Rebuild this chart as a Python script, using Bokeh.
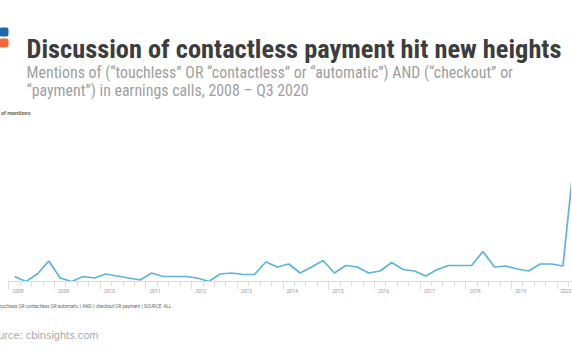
from bokeh.plotting import figure
from bokeh.models import Label, FixedTicker, LinearAxis, Range1d, BoxAnnotation, PrintfTickFormatter
from bokeh.embed import file_html
from bokeh.resources import INLINE

# ---- data -------------------------------------------------------------
years = list(range(2008, 2021))
quarters = [f"{y} Q{q}" for y in years for q in (1, 2, 3, 4)][:51]   # 2008 Q1 .. 2020 Q3
mentions = [10, 0, 15, 41, 7, 0, 10, 7,
            15, 11, 7, 3, 17, 10, 10, 10,
            7, 0, 15, 17, 14, 14, 39, 29,
            35, 17, 29, 42, 17, 32, 29, 17,
            21, 38, 24, 21, 11, 24, 32, 32,
            32, 60, 29, 31, 25, 21, 35, 35,
            31, 250, 290]

title_text = "Discussion of contactless payment hit new heights"
subtitle_1 = "Mentions of (\u201ctouchless\u201d OR \u201ccontactless\u201d or \u201cautomatic\u201d) AND (\u201ccheckout\u201d or"
subtitle_2 = "\u201cpayment\u201d) in earnings calls, 2008 \u2013 Q3 2020"
y_label = "# of mentions"
query_text = "( touchless OR contactless OR automatic ) AND ( checkout OR payment ) SOURCE: ALL"
source_text = "Source: cbinsights.com"

# x position of each quarter = middle of the quarter, in years
xs = [int(s[:4]) + (int(s[-1]) - 0.5) / 4 for s in quarters]

W, H = 572, 364
p = figure(width=W, height=H, output_backend="svg", toolbar_location=None,
           x_axis_type=None, y_axis_type=None,
           x_range=Range1d(2007.796, 2020.312), y_range=Range1d(-164, 564),
           min_border_left=0, min_border_right=0, min_border_top=0, min_border_bottom=0,
           margin=(-1, -1, -1, -1))
p.outline_line_color = None
p.grid.visible = False
p.background_fill_color = "white"
p.border_fill_color = "white"

p.line(xs, mentions, line_color="#5ab4dd", line_width=1.7)

# axis with tick marks (years long, quarters short), labels not drawn
tick_axis = LinearAxis(
    fixed_location=0,
    ticker=FixedTicker(ticks=[float(y) for y in years] + [2021.0],
                       minor_ticks=[y + q / 4 for y in years for q in range(4)]),
    bounds=(2008, 2021),
    axis_line_color="#dddddd", axis_line_width=1,
    major_tick_line_color="#dddddd", major_tick_out=8, major_tick_in=0,
    minor_tick_line_color="#dddddd", minor_tick_out=5, minor_tick_in=0,
    major_label_text_font_size="1px", major_label_text_color=None,
    major_label_standoff=0,
)
p.add_layout(tick_axis, "below")

# axis carrying the year labels
label_axis = LinearAxis(
    fixed_location=0,
    ticker=FixedTicker(ticks=[y + 0.2 for y in years], minor_ticks=[]),
    formatter=PrintfTickFormatter(format="%d"),
    axis_line_color=None, major_tick_line_color=None, minor_tick_line_color=None,
    major_tick_out=0, major_tick_in=0, major_label_standoff=7,
    major_label_text_font_size="5px", major_label_text_color="#999999",
    major_label_text_font="Roboto",
)
p.add_layout(label_axis, "below")

def lab(text, x, y, size, color, font="Roboto", style="normal", anchor=None):
    kw = dict(x=x, y=H - y, x_units="screen", y_units="screen", text=text,
              text_font_size=size, text_color=color, text_font=font,
              text_font_style=style, text_baseline="alphabetic")
    if anchor:
        kw["anchor"] = anchor
    p.add_layout(Label(**kw))

COND = "'Roboto Condensed', Roboto"
lab(title_text, 27, 49, "26.4px", "#3d3d3d", font=COND, style="bold")
lab(subtitle_1, 27, 73, "15.9px", "#a0a0a0", font=COND)
lab(subtitle_2, 27, 91, "15.9px", "#a0a0a0", font=COND)
lab(y_label, 31, 116, "5.5px", "#666666", style="bold", anchor="bottom_right")
lab(query_text, 172, 309, "4.6px", "#666666", anchor="bottom_right")
lab(source_text, 99, 341, "11px", "#aaaaaa", font="Liberation Sans", anchor="bottom_right")

for top, bottom, color in ((28, 37, "#1f6aa5"), (39, 48, "#f26a36")):
    p.add_layout(BoxAnnotation(left=0, right=9, top=H - top, bottom=H - bottom,
                               left_units="screen", right_units="screen",
                               top_units="screen", bottom_units="screen",
                               fill_color=color, fill_alpha=1, line_color=None,
                               border_radius=2))

open("out.html", "w").write(file_html(p, INLINE))
